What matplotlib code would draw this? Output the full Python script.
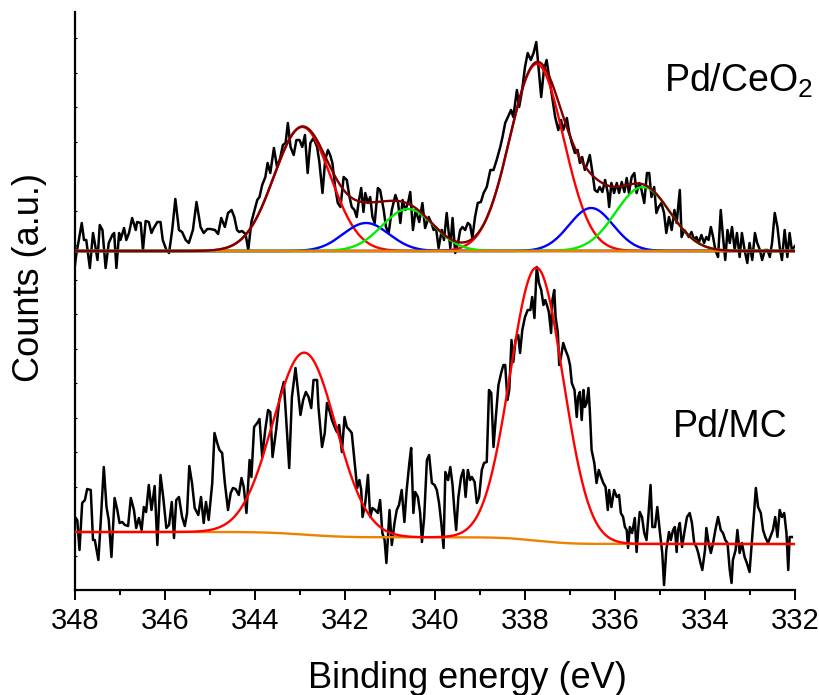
import numpy as np
import matplotlib
matplotlib.use('Agg')
import matplotlib.pyplot as plt
from matplotlib.pyplot import MultipleLocator

plt.rcParams['font.family'] = ['Liberation Sans', 'DejaVu Sans']
plt.rcParams['mathtext.fontset'] = 'custom'
plt.rcParams['mathtext.rm'] = 'Liberation Sans'

# Pd/CeO2 raw spectrum (binding energy, counts above its own baseline)
top_be = [348.00, 347.98, 347.85, 347.80, 347.75, 347.67, 347.60, 347.56, 347.50, 347.45,
          347.39, 347.32, 347.25, 347.17, 347.13, 347.08, 347.02, 346.99, 346.91, 346.86,
          346.80, 346.73, 346.65, 346.62, 346.54, 346.49, 346.43, 346.36, 346.30, 346.25,
          346.17, 346.10, 346.05, 345.97, 345.91, 345.84, 345.77, 345.69, 345.62, 345.54,
          345.47, 345.38, 345.30, 345.21, 345.14, 345.06, 344.99, 344.89, 344.82, 344.75,
          344.67, 344.60, 344.52, 344.46, 344.40, 344.35, 344.29, 344.21, 344.15, 344.08,
          344.01, 343.95, 343.90, 343.84, 343.77, 343.72, 343.66, 343.58, 343.51, 343.44,
          343.38, 343.32, 343.27, 343.21, 343.14, 343.08, 343.01, 342.95, 342.89, 342.83,
          342.77, 342.70, 342.62, 342.57, 342.50, 342.44, 342.38, 342.33, 342.28, 342.22,
          342.16, 342.10, 342.03, 341.96, 341.90, 341.85, 341.79, 341.74, 341.70, 341.64,
          341.59, 341.55, 341.49, 341.44, 341.39, 341.34, 341.27, 341.22, 341.14, 341.09,
          341.03, 340.96, 340.88, 340.82, 340.77, 340.72, 340.66, 340.60, 340.55, 340.49,
          340.43, 340.35, 340.28, 340.22, 340.14, 340.08, 340.03, 339.98, 339.92, 339.85,
          339.80, 339.74, 339.66, 339.61, 339.55, 339.49, 339.44, 339.39, 339.33, 339.27,
          339.22, 339.17, 339.11, 339.05, 338.98, 338.92, 338.85, 338.77, 338.70, 338.63,
          338.55, 338.50, 338.44, 338.38, 338.31, 338.26, 338.18, 338.13, 338.07, 338.00,
          337.94, 337.87, 337.81, 337.75, 337.70, 337.64, 337.58, 337.52, 337.41, 337.33,
          337.26, 337.20, 337.15, 337.07, 337.02, 336.96, 336.89, 336.83, 336.78, 336.73,
          336.67, 336.61, 336.56, 336.50, 336.45, 336.39, 336.34, 336.28, 336.22, 336.16,
          336.13, 336.08, 336.02, 335.96, 335.91, 335.85, 335.79, 335.74, 335.69, 335.63,
          335.57, 335.52, 335.46, 335.41, 335.35, 335.29, 335.24, 335.19, 335.13, 335.08,
          335.03, 334.97, 334.91, 334.86, 334.80, 334.74, 334.68, 334.63, 334.56, 334.52,
          334.46, 334.41, 334.36, 334.30, 334.24, 334.19, 334.14, 334.08, 334.02, 333.97,
          333.92, 333.87, 333.82, 333.77, 333.71, 333.65, 333.60, 333.55, 333.50, 333.45,
          333.40, 333.34, 333.29, 333.23, 333.18, 333.12, 333.06, 333.01, 332.95, 332.89,
          332.84, 332.78, 332.73, 332.67, 332.61, 332.56, 332.51, 332.45, 332.39, 332.34,
          332.29, 332.23, 332.17, 332.12, 332.07, 332.00]
top_counts = [-14, -6, 28, 11, 11, -17, 18, 8, -9, 26,
              21, -17, 8, 16, 18, -17, 18, 11, 23, 11,
              18, 33, 21, 29, 28, 1, 30, 29, 18, 23,
              29, 29, 11, 1, -2, 21, 52, 21, 19, 11,
              8, 21, 49, 24, 18, 22, 22, 21, 17, 33,
              24, 38, 41, 34, 21, 19, 20, 17, 1, 29,
              41, 51, 54, 66, 74, 88, 78, 103, 84, 93,
              106, 108, 128, 104, 96, 111, 111, 104, 116, 78,
              108, 113, 104, 89, 58, 91, 101, 96, 88, 64,
              48, 44, 74, 71, 54, 44, 41, 34, 48, 63,
              39, 58, 48, 54, 34, 28, 63, 61, 41, 24,
              18, 41, 56, 48, 28, 51, 41, 48, 59, 21,
              41, 29, 48, 23, 34, 28, 21, 24, 3, 21,
              11, 38, 3, 33, -2, 8, 21, 24, 21, 28,
              26, 13, 34, 48, 49, 58, 64, 81, 81, 91,
              104, 114, 128, 134, 141, 134, 161, 144, 159, 184,
              198, 191, 198, 209, 184, 154, 181, 191, 158, 134,
              121, 131, 121, 133, 119, 108, 98, 101, 88, 94,
              81, 88, 96, 78, 61, 59, 64, 59, 71, 58,
              44, 68, 58, 68, 58, 69, 59, 73, 58, 74,
              78, 58, 68, 61, 48, 78, 78, 54, 64, 38,
              44, 48, 38, 18, 34, 21, 41, 28, 61, 14,
              21, 18, 14, 19, 11, 14, 8, 16, 8, 14,
              11, 24, 14, 1, -6, 41, 14, -9, 21, 8,
              24, 1, 18, -6, 18, 1, -12, 8, -9, 18,
              8, 1, -9, 1, 1, -6, 8, 38, 24, 4,
              -9, 21, -6, 18, 1, 5]

# Pd/MC raw spectrum
bottom_be = [348.00, 347.95, 347.90, 347.84, 347.78, 347.73, 347.65, 347.60, 347.56, 347.48,
             347.43, 347.36, 347.30, 347.25, 347.19, 347.12, 347.06, 347.01, 346.95, 346.89,
             346.82, 346.76, 346.69, 346.64, 346.58, 346.52, 346.47, 346.42, 346.36, 346.30,
             346.23, 346.17, 346.10, 346.04, 345.97, 345.91, 345.85, 345.80, 345.75, 345.69,
             345.62, 345.56, 345.51, 345.46, 345.40, 345.34, 345.26, 345.20, 345.14, 345.09,
             345.03, 344.95, 344.90, 344.84, 344.79, 344.73, 344.67, 344.60, 344.54, 344.49,
             344.43, 344.36, 344.30, 344.25, 344.19, 344.12, 344.08, 344.02, 343.95, 343.90,
             343.84, 343.77, 343.71, 343.66, 343.61, 343.53, 343.46, 343.36, 343.31, 343.24,
             343.18, 343.10, 343.04, 342.99, 342.93, 342.87, 342.81, 342.75, 342.70, 342.62,
             342.59, 342.51, 342.45, 342.40, 342.35, 342.29, 342.23, 342.18, 342.13, 342.07,
             342.01, 341.96, 341.90, 341.85, 341.79, 341.73, 341.68, 341.64, 341.61, 341.55,
             341.49, 341.44, 341.39, 341.33, 341.27, 341.22, 341.17, 341.12, 341.08, 341.05,
             341.01, 340.96, 340.90, 340.85, 340.80, 340.74, 340.68, 340.63, 340.57, 340.53,
             340.48, 340.44, 340.38, 340.33, 340.29, 340.24, 340.18, 340.13, 340.07, 340.01,
             339.96, 339.91, 339.86, 339.81, 339.77, 339.71, 339.66, 339.61, 339.57, 339.53,
             339.48, 339.42, 339.37, 339.32, 339.27, 339.22, 339.18, 339.12, 339.07, 339.02,
             338.96, 338.91, 338.85, 338.80, 338.75, 338.70, 338.65, 338.59, 338.53, 338.48,
             338.44, 338.39, 338.35, 338.30, 338.26, 338.21, 338.15, 338.11, 338.06, 338.00,
             337.94, 337.88, 337.84, 337.79, 337.74, 337.69, 337.64, 337.59, 337.55, 337.50,
             337.47, 337.42, 337.39, 337.35, 337.32, 337.27, 337.24, 337.20, 337.15, 337.10,
             337.04, 337.00, 336.96, 336.90, 336.85, 336.82, 336.78, 336.74, 336.70, 336.67,
             336.63, 336.59, 336.56, 336.52, 336.46, 336.41, 336.36, 336.31, 336.26, 336.21,
             336.16, 336.13, 336.08, 336.02, 335.96, 335.91, 335.87, 335.82, 335.78, 335.74,
             335.71, 335.67, 335.62, 335.56, 335.52, 335.48, 335.45, 335.40, 335.35, 335.30,
             335.26, 335.21, 335.17, 335.11, 335.06, 335.00, 334.95, 334.91, 334.86, 334.80,
             334.76, 334.71, 334.67, 334.63, 334.60, 334.56, 334.51, 334.45, 334.40, 334.34,
             334.29, 334.24, 334.19, 334.15, 334.10, 334.06, 334.00, 333.97, 333.92, 333.87,
             333.82, 333.77, 333.71, 333.65, 333.60, 333.55, 333.50, 333.45, 333.41, 333.38,
             333.32, 333.28, 333.23, 333.18, 333.12, 333.07, 333.01, 332.95, 332.91, 332.87,
             332.82, 332.76, 332.71, 332.66, 332.60, 332.55, 332.49, 332.44, 332.39, 332.34,
             332.29, 332.24, 332.19, 332.15, 332.12, 332.07]
bottom_counts = [27, 24, -6, 41, 44, 55, 54, 4, 4, -16,
                 21, 77, 37, 24, -13, 46, 34, 21, 22, 19,
                 18, 46, 34, 16, 26, 14, 37, 32, 59, 34,
                 58, -1, 69, 47, 16, 19, 42, 6, 44, 47,
                 27, 18, 31, 78, 61, 36, 29, 47, 21, 42,
                 24, 61, 111, 101, 94, 91, 61, 34, 51, 56,
                 55, 49, 66, 57, 31, 84, 67, 117, 121, 125,
                 87, 115, 134, 132, 87, 114, 144, 162, 127, 76,
                 147, 176, 151, 129, 144, 152, 147, 136, 164, 164,
                 137, 97, 111, 141, 134, 124, 117, 112, 119, 92,
                 127, 117, 114, 111, 84, 56, 64, 54, 27, 41,
                 69, 27, 36, 34, 31, 44, 11, 4, -19, 4,
                 34, -1, 21, 34, 39, 54, 22, 54, 81, 96,
                 31, 52, 47, 31, 2, 27, 84, 89, 61, 59,
                 54, 41, 21, -4, 72, 64, 77, 59, 34, 14,
                 47, 67, 74, 47, 74, 64, 67, 62, 41, 47,
                 74, 81, 82, 154, 151, 97, 126, 159, 171, 179,
                 179, 144, 154, 204, 182, 204, 209, 191, 214, 227,
                 234, 234, 247, 226, 277, 261, 254, 239, 244, 237,
                 232, 211, 244, 254, 227, 211, 179, 187, 201, 194,
                 187, 179, 161, 154, 127, 147, 152, 124, 154, 137,
                 141, 156, 134, 94, 81, 61, 74, 67, 61, 57,
                 34, 54, 37, 54, 47, 49, 31, 27, 17, 14,
                 -4, 17, 11, 26, -8, 17, 32, 27, 11, 4,
                 27, 59, 17, 17, 37, 11, -9, -41, -6, 12,
                 4, 14, 17, -8, 14, 21, -3, 14, 27, 31,
                 21, 1, -3, -9, -19, -26, -6, 16, 1, -9,
                 1, 14, 27, 14, 11, 4, 1, -26, -39, -16,
                 -6, 14, -9, 1, -13, -19, -28, 7, 31, 56,
                 37, 31, 14, 7, 1, 7, 14, 27, 7, 34,
                 27, 31, 11, -26, 7, 7]

# fitted components: Pd 3d5/2 / 3d3/2 doublets
top_centers = [342.95, 337.74, 341.53, 336.53, 340.60, 335.38]
top_heights = [124, 187, 28, 43, 42, 64]
top_fwhm = [1.47, 1.40, 1.20, 1.15, 1.35, 1.42]
top_colors = ['#ff0000', '#ff0000', '#0000ff', '#0000ff', '#00ee00', '#00ee00']

bottom_centers = [342.90, 337.74]
bottom_heights = [182, 273]
bottom_fwhm = [1.65, 1.38]
bottom_step = 12  # Shirley background step

top_offset = 339
bottom_offset = 46


def gauss(x, c, h, fwhm):
    s = fwhm / 2.3548
    return h * np.exp(-0.5 * ((x - c) / s) ** 2)


fit_be = np.linspace(332, 348, 801)

fig = plt.figure(figsize=(8.2, 6.95), dpi=100)
ax = fig.add_axes([75 / 820, 105 / 695, 720 / 820, 578 / 695])

# top spectrum
ax.plot(top_be, np.array(top_counts) + top_offset, color='black', lw=1.8, zorder=2)
envelope = np.zeros_like(fit_be)
for c, h, w, col in zip(top_centers, top_heights, top_fwhm, top_colors):
    comp = gauss(fit_be, c, h, w)
    envelope += comp
    ax.plot(fit_be, comp + top_offset, color=col, lw=1.7, zorder=3)
ax.plot(fit_be, np.zeros_like(fit_be) + top_offset, color='#f08000', lw=1.7, zorder=4)
ax.plot(fit_be, envelope + top_offset, color='#800000', lw=1.7, zorder=5)

# bottom spectrum
ax.plot(bottom_be, np.array(bottom_counts) + bottom_offset, color='black', lw=1.8, zorder=2)
peaks = np.zeros_like(fit_be)
for c, h, w in zip(bottom_centers, bottom_heights, bottom_fwhm):
    peaks += gauss(fit_be, c, h, w)
cum = np.cumsum(peaks)
shirley = bottom_step * cum / cum[-1]
ax.plot(fit_be, shirley + bottom_offset, color='#f08000', lw=1.7, zorder=3)
ax.plot(fit_be, peaks + shirley + bottom_offset, color='#ff0000', lw=1.7, zorder=4)

ax.set_xlim(348, 332)
ax.set_ylim(0, 578)
ax.xaxis.set_major_locator(MultipleLocator(2))
ax.xaxis.set_minor_locator(MultipleLocator(1))
ax.yaxis.set_major_locator(MultipleLocator(34.5))
ax.tick_params(axis='x', which='major', direction='out', length=7.5, width=1.4,
               labelsize=21, pad=5)
ax.tick_params(axis='x', which='minor', direction='out', length=3.8, width=1.4)
ax.tick_params(axis='y', which='major', direction='in', length=1.2, width=0.8,
               labelleft=False)
for side in ['top', 'right']:
    ax.spines[side].set_visible(False)
for side in ['left', 'bottom']:
    ax.spines[side].set_linewidth(1.6)

fig.text(30 / 820, 1 - 277 / 695, 'Counts (a.u.)', rotation=90, fontsize=26,
         ha='center', va='center')
fig.text(467 / 820, 1 - 679 / 695, 'Binding energy (eV)', fontsize=26,
         ha='center', va='center')
fig.text(664 / 820, 1 - 92 / 695, r'Pd/CeO$_\mathregular{2}$', fontsize=27,
         ha='left', va='baseline')
fig.text(673 / 820, 1 - 437 / 695, 'Pd/MC', fontsize=27, ha='left', va='baseline')

fig.savefig('out.png', dpi=100)
